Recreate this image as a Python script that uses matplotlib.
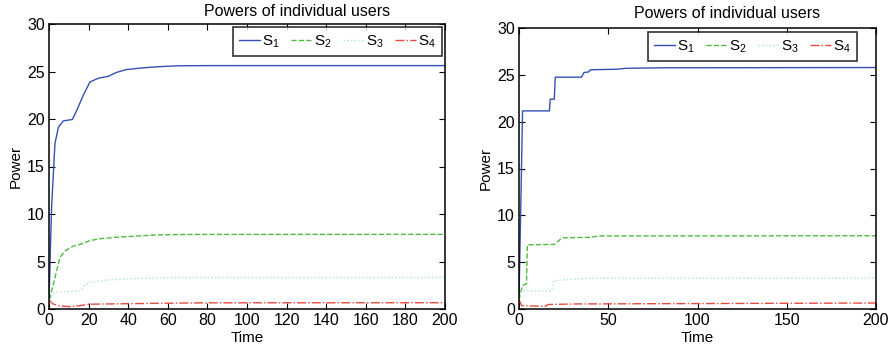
import matplotlib
matplotlib.use("Agg")
import matplotlib.pyplot as plt

plt.rcParams['font.family'] = ['Liberation Sans', 'DejaVu Sans']
plt.rcParams['font.size'] = 10

# ---- Left panel (smooth dynamics) ----
tL_s1 = [0, 1.3, 3, 4.7, 7.2, 11.8, 14, 17.3, 20.7, 25, 30, 34, 39, 46, 55, 65, 80, 200]
yL_s1 = [1.0, 10.7, 17.4, 19.1, 19.8, 19.95, 20.9, 22.5, 23.9, 24.3, 24.5, 24.9, 25.2, 25.36, 25.5, 25.6, 25.62, 25.62]

tL_s2 = [0, 0.5, 3, 5.5, 8, 12, 15.6, 20.7, 25.7, 34, 46, 55, 70, 200]
yL_s2 = [1.0, 1.2, 3.3, 5.4, 6.1, 6.6, 6.8, 7.2, 7.4, 7.55, 7.7, 7.8, 7.85, 7.86]

tL_s3 = [0, 0.5, 3, 12, 16, 18, 20.7, 29, 46, 60, 200]
yL_s3 = [1.0, 1.2, 1.75, 1.86, 1.93, 2.45, 2.8, 3.05, 3.23, 3.3, 3.33]

tL_s4 = [0, 2, 5.5, 10.5, 15.6, 20, 29, 55, 80, 200]
yL_s4 = [0.95, 0.53, 0.32, 0.25, 0.35, 0.5, 0.53, 0.6, 0.65, 0.66]

# ---- Right panel (step-like dynamics) ----
tR_s1 = [0, 2, 17, 17.5, 19.8, 20.3, 35, 36.4, 38.8, 40, 55, 60, 80, 200]
yR_s1 = [1.0, 21.15, 21.15, 22.4, 22.4, 24.75, 24.75, 25.25, 25.3, 25.54, 25.6, 25.7, 25.75, 25.78]

tR_s2 = [0, 1.9, 4.2, 4.7, 20, 24, 40, 45, 200]
yR_s2 = [1.0, 2.5, 2.7, 6.85, 6.9, 7.6, 7.65, 7.8, 7.82]

tR_s3 = [0, 1.5, 18.3, 19.6, 40, 200]
yR_s3 = [1.0, 1.95, 1.95, 3.04, 3.3, 3.3]

tR_s4 = [0, 1.5, 14.5, 16.4, 32, 200]
yR_s4 = [1.0, 0.36, 0.28, 0.48, 0.54, 0.64]

labels = [r'$\mathregular{S_1}$', r'$\mathregular{S_2}$', r'$\mathregular{S_3}$', r'$\mathregular{S_4}$']
colors = ['#3550b4', '#4dbb3d', '#a9e3e3', '#e84a3e']
styles = ['-', '--', ':', '-.']

W, H = 894, 350
fig = plt.figure(figsize=(W / 100, H / 100), dpi=100)


def fx(px):
    return px / W


def fy(py):
    return 1 - py / H


def setup(ax, xticks):
    ax.set_xlim(0, 200)
    ax.set_ylim(0, 30)
    ax.set_xticks(xticks)
    ax.set_yticks([0, 5, 10, 15, 20, 25, 30])
    ax.tick_params(direction='in', top=True, right=True, length=4, width=0.8,
                   labelsize=11.5, pad=3)
    for s in ax.spines.values():
        s.set_linewidth(1.1)
    ax.set_xlabel('Time', fontsize=11, labelpad=2)
    ax.set_ylabel('Power', fontsize=11, labelpad=3)


def add_legend(ax, right_px, top_px):
    leg = ax.legend(loc='upper right', bbox_to_anchor=(fx(right_px), fy(top_px)),
                    bbox_transform=fig.transFigure, ncol=4, frameon=True,
                    fancybox=False, borderaxespad=0, handlelength=1.35,
                    columnspacing=0.75, handletextpad=0.15, fontsize=11,
                    borderpad=0.4)
    leg.get_frame().set_edgecolor('black')
    leg.get_frame().set_linewidth(1.2)
    return leg


# Left axes
axL = fig.add_axes([fx(49), fy(309), fx(445 - 49), (309 - 24) / H])
series_L = [(tL_s1, yL_s1), (tL_s2, yL_s2), (tL_s3, yL_s3), (tL_s4, yL_s4)]
for (t, y), c, ls, lab in zip(series_L, colors, styles, labels):
    axL.plot(t, y, color=c, linestyle=ls, linewidth=1.0, label=lab)
setup(axL, list(range(0, 201, 20)))
add_legend(axL, 442, 27)
fig.text(fx(297), fy(12), 'Powers of individual users', ha='center', va='center', fontsize=11.5)

# Right axes
axR = fig.add_axes([fx(519), fy(309), fx(876 - 519), (309 - 28) / H])
series_R = [(tR_s1, yR_s1), (tR_s2, yR_s2), (tR_s3, yR_s3), (tR_s4, yR_s4)]
for (t, y), c, ls, lab in zip(series_R, colors, styles, labels):
    axR.plot(t, y, color=c, linestyle=ls, linewidth=1.0, label=lab)
setup(axR, [0, 50, 100, 150, 200])
add_legend(axR, 857, 32)
fig.text(fx(727), fy(14), 'Powers of individual users', ha='center', va='center', fontsize=11.5)

fig.savefig('out.png', dpi=100)
